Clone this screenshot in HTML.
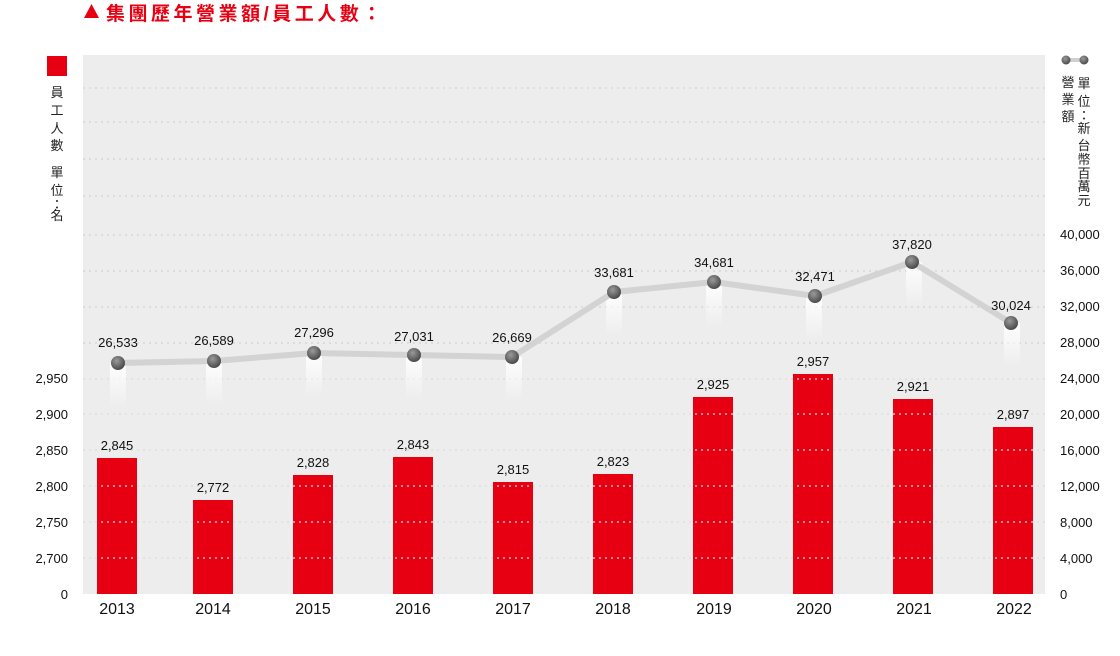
<!DOCTYPE html>
<html><head><meta charset="utf-8"><style>
body{margin:0;background:#fff;}
svg{display:block;font-family:"Liberation Sans","Noto Sans CJK TC",sans-serif;}
</style></head><body>
<svg width="1120" height="656" viewBox="0 0 1120 656" xmlns="http://www.w3.org/2000/svg">
<defs>
<radialGradient id="ball" cx="40%" cy="35%" r="65%"><stop offset="0" stop-color="#9a9a9a"/><stop offset="1" stop-color="#4a4a4a"/></radialGradient>
<linearGradient id="glow" x1="0" y1="0" x2="0" y2="1"><stop offset="0" stop-color="#fff" stop-opacity="0.95"/><stop offset="1" stop-color="#fff" stop-opacity="0"/></linearGradient>
</defs>
<polygon points="84,4 99,4 91.5,18" fill="#e60012" transform="rotate(180 91.5 11)"/>
<text x="106" y="20" font-size="19" font-weight="bold" fill="#e60012" letter-spacing="3.5">集團歷年營業額/員工人數：</text>
<rect x="83" y="55" width="962" height="539" fill="#ededed"/>
<rect x="47" y="56" width="20" height="20" fill="#e60012"/>
<g font-size="13" fill="#222" text-anchor="middle">
<text x="57" y="97">員</text><text x="57" y="115">工</text><text x="57" y="133">人</text><text x="57" y="150">數</text>
<text x="57" y="177">單</text><text x="57" y="195">位</text><text x="57" y="209">：</text><text x="57" y="220">名</text>
</g>
<g font-size="13" fill="#222" text-anchor="middle">
<text x="1068" y="87">營</text><text x="1068" y="104">業</text><text x="1068" y="121">額</text>
<text x="1084" y="88">單</text><text x="1084" y="106">位</text><text x="1084" y="120">：</text><text x="1084" y="133">新</text><text x="1084" y="150">台</text><text x="1084" y="164">幣</text><text x="1084" y="178">百</text><text x="1084" y="191">萬</text><text x="1084" y="205">元</text>
</g>
<line x1="1066" y1="60" x2="1084" y2="60" stroke="#d0d0d0" stroke-width="4"/>
<circle cx="1066" cy="60" r="4.5" fill="url(#ball)"/><circle cx="1084" cy="60" r="4.5" fill="url(#ball)"/>
<g font-size="13" fill="#111" text-anchor="end">
<text x="68" y="383">2,950</text><text x="68" y="419">2,900</text><text x="68" y="455">2,850</text><text x="68" y="491">2,800</text><text x="68" y="527">2,750</text><text x="68" y="563">2,700</text><text x="68" y="599">0</text>
</g>
<g font-size="13" fill="#111" text-anchor="start">
<text x="1060" y="239">40,000</text><text x="1060" y="275">36,000</text><text x="1060" y="311">32,000</text><text x="1060" y="347">28,000</text><text x="1060" y="383">24,000</text><text x="1060" y="419">20,000</text><text x="1060" y="455">16,000</text><text x="1060" y="491">12,000</text><text x="1060" y="527">8,000</text><text x="1060" y="563">4,000</text><text x="1060" y="599">0</text>
</g>
<g fill="#e60012">
<rect x="97" y="458" width="40" height="136"/>
<rect x="193" y="500" width="40" height="94"/>
<rect x="293" y="475" width="40" height="119"/>
<rect x="393" y="457" width="40" height="137"/>
<rect x="493" y="482" width="40" height="112"/>
<rect x="593" y="474" width="40" height="120"/>
<rect x="693" y="397" width="40" height="197"/>
<rect x="793" y="374" width="40" height="220"/>
<rect x="893" y="399" width="40" height="195"/>
<rect x="993" y="427" width="40" height="167"/>
</g>
<g stroke="#d6d6d6" stroke-width="1.5" stroke-dasharray="2,4">
<line x1="83" y1="88" x2="1045" y2="88"/><line x1="83" y1="122" x2="1045" y2="122"/><line x1="83" y1="159" x2="1045" y2="159"/><line x1="83" y1="196" x2="1045" y2="196"/><line x1="83" y1="235" x2="1045" y2="235"/><line x1="83" y1="271" x2="1045" y2="271"/><line x1="83" y1="307" x2="1045" y2="307"/><line x1="83" y1="343" x2="1045" y2="343"/>
</g>
<g stroke="#dcdcdc" stroke-width="1.5" stroke-dasharray="2,4" opacity="0.85">
<line x1="83" y1="379" x2="1045" y2="379"/><line x1="83" y1="414" x2="1045" y2="414"/><line x1="83" y1="450" x2="1045" y2="450"/><line x1="83" y1="486" x2="1045" y2="486"/><line x1="83" y1="522" x2="1045" y2="522"/><line x1="83" y1="558" x2="1045" y2="558"/>
</g>
<g font-size="13" fill="#111" text-anchor="middle">
<text x="117" y="450">2,845</text><text x="213" y="492">2,772</text><text x="313" y="467">2,828</text><text x="413" y="449">2,843</text><text x="513" y="474">2,815</text><text x="613" y="466">2,823</text><text x="713" y="389">2,925</text><text x="813" y="366">2,957</text><text x="913" y="391">2,921</text><text x="1013" y="419">2,897</text>
</g>
<g fill="url(#glow)">
<rect x="110" y="363" width="16" height="45"/><rect x="206" y="361" width="16" height="45"/><rect x="306" y="353" width="16" height="45"/><rect x="406" y="355" width="16" height="45"/><rect x="506" y="357" width="16" height="45"/><rect x="606" y="292" width="16" height="45"/><rect x="706" y="282" width="16" height="45"/><rect x="806" y="296" width="16" height="45"/><rect x="906" y="262" width="16" height="45"/><rect x="1004" y="323" width="16" height="45"/>
</g>
<polyline points="118,363 214,361 314,353 414,355 512,357 614,292 714,282 815,296 912,262 1011,323" fill="none" stroke="#d3d3d3" stroke-width="6" stroke-linejoin="round"/>
<g fill="url(#ball)">
<circle cx="118" cy="363" r="7"/><circle cx="214" cy="361" r="7"/><circle cx="314" cy="353" r="7"/><circle cx="414" cy="355" r="7"/><circle cx="512" cy="357" r="7"/><circle cx="614" cy="292" r="7"/><circle cx="714" cy="282" r="7"/><circle cx="815" cy="296" r="7"/><circle cx="912" cy="262" r="7"/><circle cx="1011" cy="323" r="7"/>
</g>
<g font-size="13" fill="#111" text-anchor="middle">
<text x="118" y="347">26,533</text><text x="214" y="345">26,589</text><text x="314" y="337">27,296</text><text x="414" y="341">27,031</text><text x="512" y="342">26,669</text><text x="614" y="277">33,681</text><text x="714" y="267">34,681</text><text x="815" y="281">32,471</text><text x="912" y="249">37,820</text><text x="1011" y="310">30,024</text>
</g>
<g font-size="16" fill="#111" text-anchor="middle">
<text x="117" y="614">2013</text><text x="213" y="614">2014</text><text x="313" y="614">2015</text><text x="413" y="614">2016</text><text x="513" y="614">2017</text><text x="613" y="614">2018</text><text x="714" y="614">2019</text><text x="814" y="614">2020</text><text x="914" y="614">2021</text><text x="1014" y="614">2022</text>
</g>
</svg>
</body></html>
